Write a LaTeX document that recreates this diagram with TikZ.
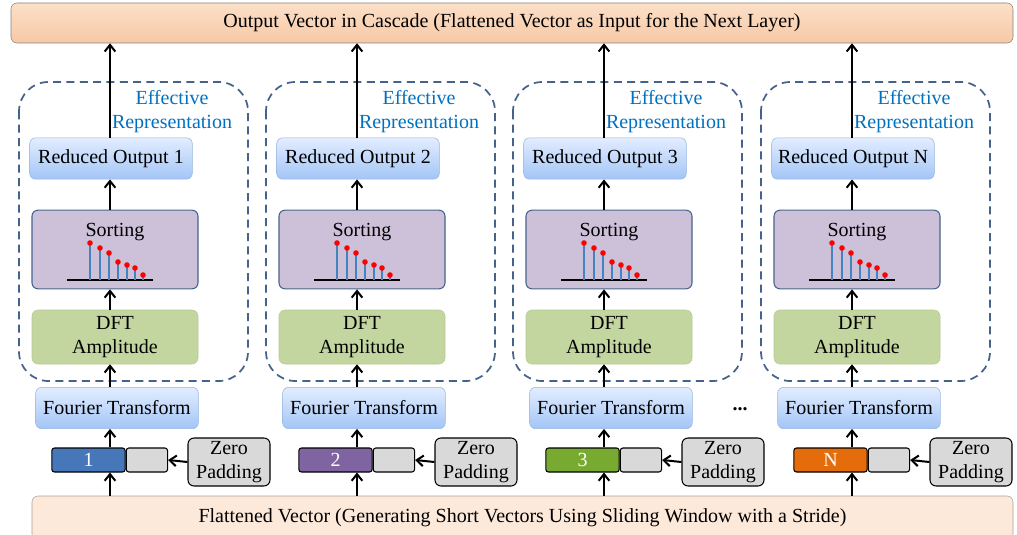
\documentclass[tikz,border=0pt]{standalone}
\usepackage{fontspec}
\setmainfont{Liberation Serif}
\usetikzlibrary{arrows.meta,calc}

\definecolor{roTop}{RGB}{226,237,255}
\definecolor{roBot}{RGB}{163,197,246}
\definecolor{roLine}{RGB}{150,180,222}
\definecolor{sortFill}{RGB}{205,193,218}
\definecolor{sortLine}{RGB}{70,100,140}
\definecolor{dftFill}{RGB}{196,214,160}
\definecolor{dftLine}{RGB}{180,202,145}
\definecolor{dashLine}{RGB}{68,98,138}
\definecolor{effBlue}{RGB}{0,112,192}
\definecolor{stemBlue}{RGB}{70,130,190}
\definecolor{padGray}{RGB}{217,217,217}
\definecolor{outTop}{RGB}{252,224,200}
\definecolor{outBot}{RGB}{247,200,165}
\definecolor{outLine}{RGB}{130,130,130}
\definecolor{flatFill}{RGB}{253,233,218}
\definecolor{flatLine}{RGB}{170,160,150}
\definecolor{vecA}{RGB}{70,120,185}
\definecolor{vecB}{RGB}{128,100,162}
\definecolor{vecC}{RGB}{120,170,50}
\definecolor{vecD}{RGB}{228,108,10}

\begin{document}
\begin{tikzpicture}[
  x=0.75pt,
  y=-0.75pt,
  >={Straight Barb[length=5pt,width=8pt]},
  txt/.style={font=\fontsize{15}{18}\selectfont},
  box/.style={
    txt,
    draw,
    rounded corners=4.5pt,
    align=center,
    inner sep=2pt
  },
  bluebox/.style={box, draw=roLine, top color=roTop, bottom color=roBot,
    minimum width=122pt, minimum height=31pt},
  sortbox/.style={box, draw=sortLine, fill=sortFill, line width=0.8pt,
    minimum width=124.5pt, minimum height=59pt},
  dftbox/.style={box, draw=dftLine, fill=dftFill,
    minimum width=124.5pt, minimum height=40.5pt},
  padbox/.style={box, draw=black, fill=padGray, line width=0.8pt,
    minimum width=61.5pt, minimum height=36pt},
  vecbox/.style={txt, draw=black, rounded corners=2pt, line width=0.8pt,
    minimum width=55pt, minimum height=18pt, inner sep=0pt, text=white},
  emptybox/.style={vecbox, fill=padGray, minimum width=31pt},
  group/.style={draw=dashLine, dash pattern=on 6pt off 4pt,
    line width=1.3pt, rounded corners=22pt},
  flow/.style={->, line width=1.5pt},
  stem/.style={stemBlue, line width=1.6pt}
]
\useasboundingbox (0,0) rectangle (1017,535);
\clip (0,0) rectangle (1017,535);

% input and output rows
\node[box, draw=outLine, top color=outTop, bottom color=outBot,
  minimum width=751.5pt, minimum height=30pt] (out) at (512,23)
  {Output Vector in Cascade (Flattened Vector as Input for the Next Layer)};
\node[box, draw=flatLine, fill=flatFill,
  minimum width=735.75pt, minimum height=33pt] (flat) at (522.5,518)
  {Flattened Vector (Generating Short Vectors Using Sliding Window with a Stride)};

% one column per short vector
\foreach \i/\dx/\lab/\col in {1/0/1/vecA, 2/247/2/vecB, 3/494/3/vecC, 4/742/N/vecD}{
  \draw[group] (19+\dx,82) rectangle (248+\dx,381);
  \node[txt, text=effBlue, align=center] (eff\i) at (172+\dx,112)
    {Effective\\Representation};
  \coordinate (ax\i) at (110+\dx,0);

  \node[bluebox] (ro\i) at (111+\dx,158.5) {Reduced Output \lab};
  \node[sortbox] (sort\i) at (115+\dx,249.5) {};
  \node[txt] (stitle\i) at ($(sort\i)+(0,-17.5)$) {Sorting};
  \draw[line width=1.2pt] ($(sort\i)+(-48,30.5)$) -- ++(86,0);
  \foreach \sx/\sy in {-25/-6.5, -15/-1.5, -6/3.5, 3/12.5, 12/15.5, 20/18.5, 28/25.5}{
    \draw[stem] ($(sort\i)+(\sx,30)$) -- ($(sort\i)+(\sx,\sy)$);
    \fill[red] ($(sort\i)+(\sx,\sy)$) circle (2.1pt);
  }
  \node[dftbox] (dft\i) at (115+\dx,337) {DFT\\Amplitude};
  \node[bluebox] (ft\i) at (117+\dx,408) {Fourier Transform};

  \node[vecbox, fill=\col] (vec\i) at (88.5+\dx,460) {\lab};
  \node[emptybox, anchor=west] (gap\i) at (vec\i.east) {};
  \node[padbox] (pad\i) at (229+\dx,462) {Zero\\Padding};

  \draw[flow] (flat.north -| ax\i) -- (vec\i.south -| ax\i);
  \draw[flow] (vec\i.north -| ax\i) -- (ft\i.south -| ax\i);
  \draw[flow] (ft\i.north -| ax\i) -- (dft\i.south -| ax\i);
  \draw[flow] (dft\i.north -| ax\i) -- (sort\i.south -| ax\i);
  \draw[flow] (sort\i.north -| ax\i) -- (ro\i.south -| ax\i);
  \draw[flow] (ro\i.north -| ax\i) -- (out.south -| ax\i);
  \draw[flow] (pad\i.west) -- (gap\i.east);
}

\node[txt] (dots) at (740,409) {\textbf{...}};
\end{tikzpicture}
\end{document}
